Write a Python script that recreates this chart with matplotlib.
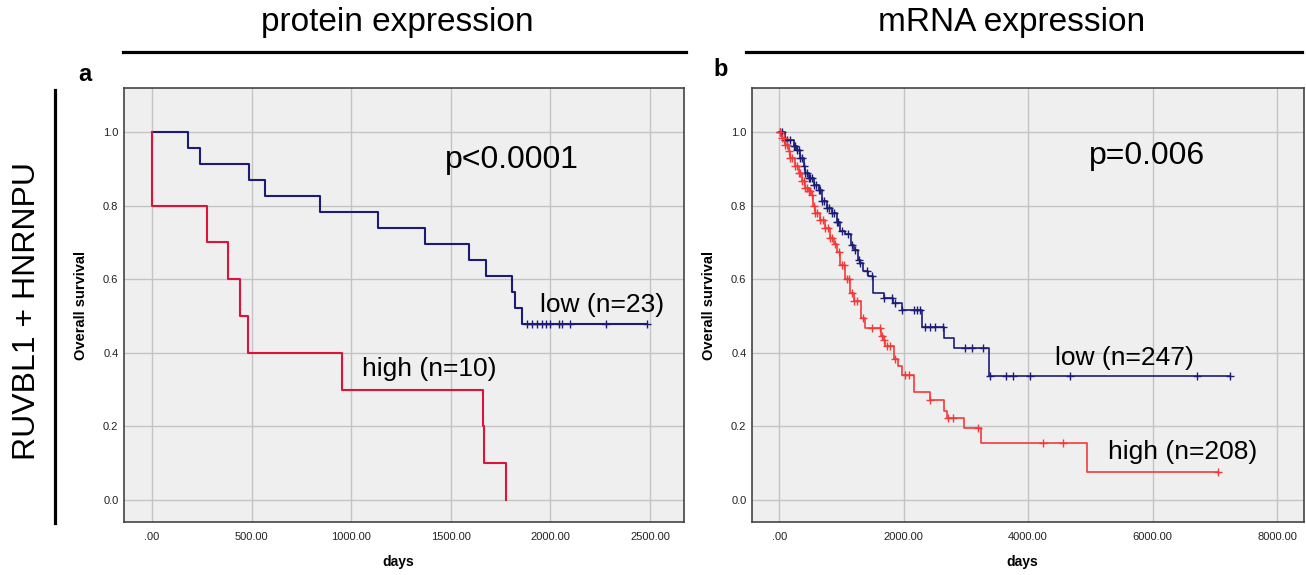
import numpy as np
import matplotlib
matplotlib.use("Agg")
import matplotlib.pyplot as plt
from matplotlib.lines import Line2D
from matplotlib.ticker import FuncFormatter

plt.rcParams['font.family'] = ['Liberation Sans', 'DejaVu Sans']

# ---- panel a: protein expression (drop times, survival after drop) ----
prot_low_t = [183, 241, 488, 568, 842, 1133, 1371, 1590, 1674, 1809, 1822, 1855]
prot_low_s = [0.957, 0.913, 0.870, 0.826, 0.783, 0.739, 0.696, 0.652, 0.609, 0.565, 0.522, 0.478]
prot_low_cens = [1880, 1905, 1930, 1955, 1980, 1997, 2045, 2060, 2098, 2281, 2485]
prot_low_end = 2485

prot_high_t = [0, 2, 274, 380, 440, 481, 952, 1659, 1667, 1776]
prot_high_s = [0.9, 0.8, 0.7, 0.6, 0.5, 0.4, 0.3, 0.2, 0.1, 0.0]
prot_high_cens = []
prot_high_end = 1776

# ---- panel b: mRNA expression ----
mrna_low_t = [96, 230, 284, 337, 391, 418, 471, 552, 632, 685, 766, 846, 926, 980,
              1060, 1150, 1200, 1270, 1301, 1354, 1430, 1505, 1676, 1836, 1971,
              2302, 2640, 2811, 3373]
mrna_low_s = [0.979, 0.961, 0.952, 0.929, 0.907, 0.889, 0.875, 0.857, 0.843, 0.812,
              0.794, 0.780, 0.757, 0.730, 0.722, 0.694, 0.680, 0.653, 0.644, 0.622,
              0.608, 0.563, 0.549, 0.536, 0.516, 0.471, 0.441, 0.412, 0.337]
mrna_low_cens = [15, 50, 96, 130, 170, 230, 260, 284, 310, 337, 365, 391, 418, 445,
                 471, 500, 530, 552, 590, 632, 660, 685, 720, 766, 800, 846, 880, 926,
                 950, 1007, 1108, 1168, 1221, 1274, 1301, 1409, 1489, 1676, 1810, 1864,
                 1971, 2158, 2211, 2265, 2345, 2426, 2506, 2630, 2988, 3095, 3272, 3380,
                 3642, 3754, 4037, 4679, 6719, 7250]
mrna_low_end = 7250

mrna_high_t = [43, 96, 150, 177, 257, 311, 364, 418, 471, 525, 541, 578, 659, 739,
               819, 873, 926, 980, 1060, 1140, 1194, 1312, 1380, 1633, 1676, 1700,
               1847, 1916, 1971, 2158, 2415, 2640, 2693, 2962, 3240, 4950]
mrna_high_s = [0.984, 0.966, 0.948, 0.929, 0.907, 0.889, 0.866, 0.848, 0.839, 0.830,
               0.798, 0.780, 0.762, 0.740, 0.712, 0.695, 0.675, 0.640, 0.600, 0.563,
               0.540, 0.495, 0.468, 0.445, 0.435, 0.418, 0.382, 0.364, 0.339, 0.294,
               0.273, 0.242, 0.222, 0.195, 0.154, 0.077]
mrna_high_cens = [20, 43, 70, 96, 120, 150, 177, 210, 257, 280, 311, 340, 364, 390,
                  418, 445, 471, 500, 525, 560, 578, 610, 659, 700, 739, 780, 819, 850,
                  900, 953, 1007, 1033, 1087, 1114, 1168, 1194, 1248, 1354, 1489, 1623,
                  1650, 1676, 1730, 1783, 1864, 2024, 2078, 2415, 2720, 2800, 3201,
                  4247, 4560, 7050]
mrna_high_end = 7050

BLUE = '#1c1c78'
RED_A = '#dc143c'
RED_B = '#f23a3a'


def step_path(times, surv, t_end):
    xs, ys = [0.0], [1.0]
    for t, s in zip(times, surv):
        xs += [t, t]
        ys += [ys[-1], s]
    xs.append(t_end)
    ys.append(ys[-1])
    return xs, ys


def surv_at(times, surv, t):
    idx = np.searchsorted(times, t, side='right')
    return 1.0 if idx == 0 else surv[idx - 1]


def draw_curve(ax, times, surv, cens, t_end, color, lw, ms):
    xs, ys = step_path(times, surv, t_end)
    ax.plot(xs, ys, color=color, lw=lw, zorder=3)
    if cens:
        cy = [surv_at(times, surv, c) for c in cens]
        ax.plot(cens, cy, ls='none', marker='+', color=color, ms=ms, mew=1.0, zorder=4)


def style_axes(ax, xticks, xlim, ylab_x):
    ax.set_facecolor('#efefef')
    ax.set_xlim(*xlim)
    ax.set_ylim(-0.06, 1.12)
    ax.set_xticks(xticks)
    ax.set_yticks([0.0, 0.2, 0.4, 0.6, 0.8, 1.0])
    ax.xaxis.set_major_formatter(FuncFormatter(lambda v, p: '.00' if v == 0 else f'{v:.2f}'))
    ax.yaxis.set_major_formatter(FuncFormatter(lambda v, p: f'{v:.1f}'))
    ax.grid(True, color='#c4c4c4', lw=1.0, zorder=0)
    ax.set_axisbelow(True)
    ax.tick_params(length=0, labelsize=8, colors='#222222')
    ax.tick_params(axis='x', pad=7)
    ax.tick_params(axis='y', pad=4)
    for sp in ax.spines.values():
        sp.set_color('#444444')
        sp.set_linewidth(1.2)
    ax.set_xlabel('days', fontsize=10, fontweight='bold')
    ax.set_ylabel('Overall survival', fontsize=10.5, fontweight='bold')
    ax.xaxis.set_label_coords(0.49, -0.075)
    ax.yaxis.set_label_coords(ylab_x, 0.5)


fig = plt.figure(figsize=(13.06, 5.75), dpi=100)
W, H = 1306.0, 575.0

ax1 = fig.add_axes([124 / W, 53 / H, 560 / W, 434 / H])
ax2 = fig.add_axes([752 / W, 53 / H, 552 / W, 434 / H])

style_axes(ax1, [0, 500, 1000, 1500, 2000, 2500], (-140, 2670), -0.064)
style_axes(ax2, [0, 2000, 4000, 6000, 8000], (-438, 8434), -0.066)

draw_curve(ax1, prot_low_t, prot_low_s, prot_low_cens, prot_low_end, BLUE, 1.5, 6)
draw_curve(ax1, prot_high_t, prot_high_s, prot_high_cens, prot_high_end, RED_A, 1.5, 6)
draw_curve(ax2, mrna_low_t, mrna_low_s, mrna_low_cens, mrna_low_end, BLUE, 1.2, 6)
draw_curve(ax2, mrna_high_t, mrna_high_s, mrna_high_cens, mrna_high_end, RED_B, 1.2, 6)

ax1.text(1471, 0.925, 'p<0.0001', fontsize=23, va='center')
ax1.text(1948, 0.53, 'low (n=23)', fontsize=19, va='center')
ax1.text(1054, 0.355, 'high (n=10)', fontsize=19, va='center')
ax2.text(4980, 0.935, 'p=0.006', fontsize=23, va='center')
ax2.text(4434, 0.385, 'low (n=247)', fontsize=19, va='center')
ax2.text(5285, 0.13, 'high (n=208)', fontsize=19, va='center')

# headers and side label
fig.text(397 / W, 1 - 22 / H, 'protein expression', fontsize=24, ha='center', va='center')
fig.text(1012 / W, 1 - 22 / H, 'mRNA expression', fontsize=24, ha='center', va='center')
fig.add_artist(Line2D([123 / W, 686 / W], [1 - 52 / H] * 2, color='black', lw=2.3))
fig.add_artist(Line2D([746 / W, 1302 / W], [1 - 52 / H] * 2, color='black', lw=2.3))
fig.add_artist(Line2D([55 / W] * 2, [1 - 90 / H, 1 - 523 / H], color='black', lw=2.3))
fig.text(27 / W, 1 - 311 / H, 'RUVBL1 + HNRNPU', fontsize=23, rotation=90,
         ha='center', va='center')
fig.text(85 / W, 1 - 74 / H, 'a', fontsize=17, fontweight='bold', ha='center', va='center')
fig.text(721 / W, 1 - 70 / H, 'b', fontsize=17, fontweight='bold', ha='center', va='center')

fig.savefig('out.png', dpi=100)
